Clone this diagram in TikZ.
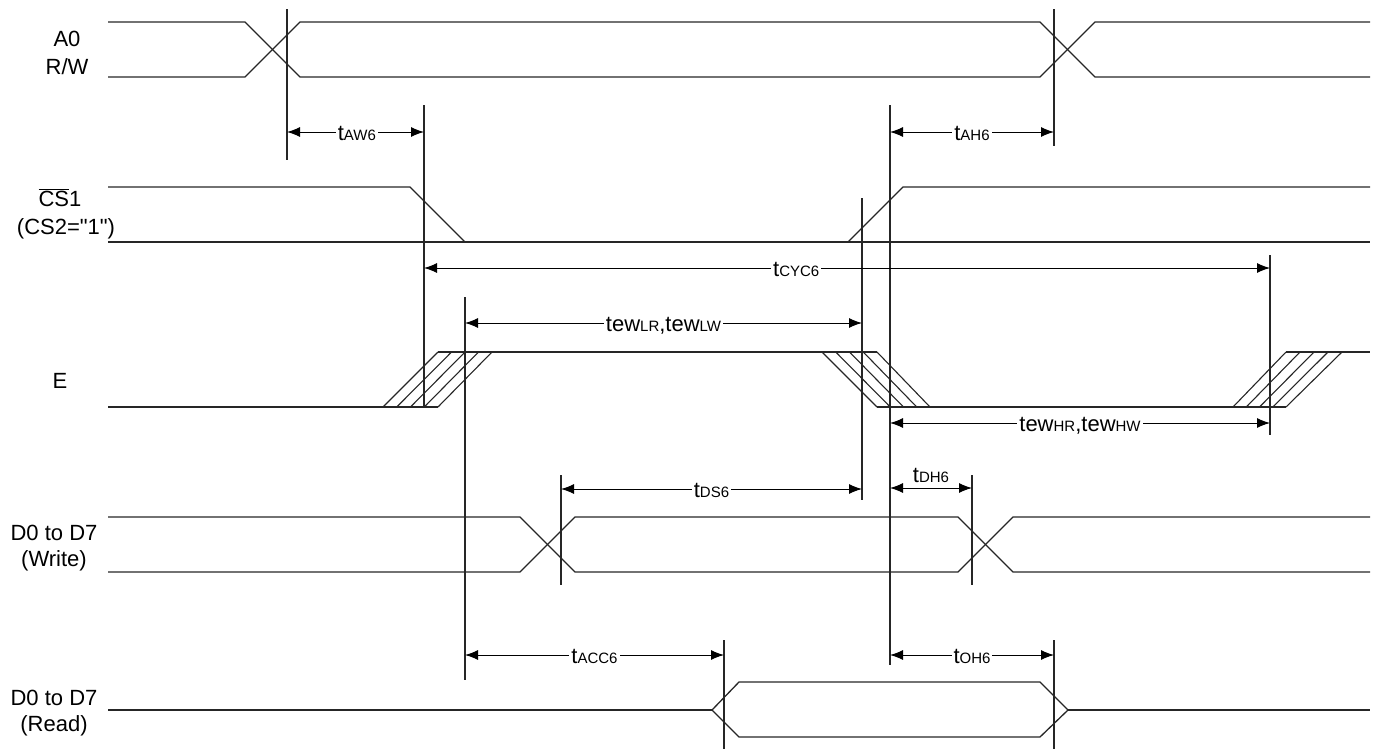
\documentclass[tikz,border=0pt]{standalone}
\usepackage{fontspec}
\setmainfont{Liberation Sans}
\newfontfamily\rawfont{Liberation Sans}
\usetikzlibrary{arrows.meta}
\newcommand{\tsub}[2]{#1{\fontsize{15}{15}\selectfont #2}}
\begin{document}
\begin{tikzpicture}[x=1pt,y=-1pt,
  every node/.style={font=\rawfont\fontsize{22}{24}\selectfont, inner sep=0pt},
  sig/.style={line width=1.3pt, draw=black!85, line join=miter},
  vline/.style={line width=1.2pt, draw=black!85},
  hatch/.style={line width=1.1pt, draw=black!85},
  dim/.style={{Latex[length=13pt,width=10pt]}-{Latex[length=13pt,width=10pt]}, line width=1pt},
  tlabel/.style={fill=white, inner xsep=2pt, inner ysep=1pt, anchor=base, yshift=-8pt},
  siglabel/.style={anchor=base}]
\useasboundingbox (0,0) rectangle (1376,753);

% signal labels
\node[siglabel] (lA0) at (67,46) {A0};
\node[siglabel] (lRW) at (67,74) {R/W};
\node[siglabel] (lCS) at (60,206) {$\overline{\mbox{\rawfont\fontsize{22}{24}\selectfont CS}}$1};
\node[siglabel] (lCS2) at (66,234) {(CS2="1")};
\node[siglabel] (lE) at (60,388) {E};
\node[siglabel] (lDW) at (54,540) {D0 to D7};
\node[siglabel] (lDWb) at (54,566) {(Write)};
\node[siglabel] (lDR) at (54,705) {D0 to D7};
\node[siglabel] (lDRb) at (54,731) {(Read)};

% A0, R/W
\draw[sig] (108,22) -- (245,22) -- (300,77) -- (1040,77) -- (1095,22) -- (1370,22);
\draw[sig] (108,77) -- (245,77) -- (300,22) -- (1040,22) -- (1095,77) -- (1370,77);

% CS1
\draw[sig] (108,187) -- (410,187) -- (465,242);
\draw[sig] (108,242) -- (1370,242);
\draw[sig] (848,242) -- (903,187) -- (1370,187);

% E
\draw[sig] (108,407) -- (438,407);
\draw[sig] (438,352) -- (877,352);
\draw[sig] (877,407) -- (1286,407);
\draw[sig] (1286,352) -- (1370,352);
\foreach \i in {0,...,4} {
  \draw[hatch] ({383+13.75*\i},407) -- ({438+13.5*\i},352);
  \draw[hatch] ({822+13.75*\i},352) -- ({877+13.25*\i},407);
  \draw[hatch] ({1233+13.25*\i},407) -- ({1286+14*\i},352);
}

% D0-D7 write
\draw[sig] (108,517) -- (520,517) -- (575,572) -- (958,572) -- (1013,517) -- (1370,517);
\draw[sig] (108,572) -- (520,572) -- (575,517) -- (958,517) -- (1013,572) -- (1370,572);

% D0-D7 read
\draw[sig] (108,710) -- (712,710);
\draw[sig] (712,710) -- (739,682) -- (1040,682) -- (1068,710) -- (1040,737) -- (739,737) -- cycle;
\draw[sig] (1068,710) -- (1370,710);

% vertical reference lines
\draw[vline] (287,9) -- (287,160);
\draw[vline] (1054,9) -- (1054,146);
\draw[vline] (424,105) -- (424,408);
\draw[vline] (890,105) -- (890,665);
\draw[vline] (862,198) -- (862,500);
\draw[vline] (1270,255) -- (1270,435);
\draw[vline] (465,297) -- (465,680);
\draw[vline] (561,475) -- (561,585);
\draw[vline] (972,475) -- (972,585);
\draw[vline] (724,640) -- (724,749);
\draw[vline] (1054,640) -- (1054,749);

% dimension end points
\coordinate (aw1) at (287,132); \coordinate (aw2) at (424,132);
\coordinate (ah1) at (890,132); \coordinate (ah2) at (1054,132);
\coordinate (cy1) at (424,268); \coordinate (cy2) at (1270,268);
\coordinate (el1) at (465,323); \coordinate (el2) at (862,323);
\coordinate (eh1) at (890,423); \coordinate (eh2) at (1270,423);
\coordinate (ds1) at (561,489); \coordinate (ds2) at (862,489);
\coordinate (dh1) at (890,488); \coordinate (dh2) at (972,488);
\coordinate (ac1) at (465,655); \coordinate (ac2) at (724,655);
\coordinate (oh1) at (890,655); \coordinate (oh2) at (1054,655);

\draw[dim] (aw1) -- (aw2) node[tlabel, pos=0.51] (tAW) {\tsub{t}{AW6}};
\draw[dim] (ah1) -- (ah2) node[tlabel, pos=0.5] (tAH) {\tsub{t}{AH6}};
\draw[dim] (cy1) -- (cy2) node[tlabel, pos=0.44] (tCYC) {\tsub{t}{CYC6}};
\draw[dim] (el1) -- (el2) node[tlabel, pos=0.5] (tEL) {\tsub{tew}{LR},\tsub{tew}{LW}};
\draw[dim] (eh1) -- (eh2) node[tlabel, pos=0.5] (tEH) {\tsub{tew}{HR},\tsub{tew}{HW}};
\draw[dim] (ds1) -- (ds2) node[tlabel, pos=0.5] (tDS) {\tsub{t}{DS6}};
\draw[dim] (dh1) -- (dh2) node[anchor=base, pos=0.5, yshift=6pt] (tDH) {\tsub{t}{DH6}};
\draw[dim] (ac1) -- (ac2) node[tlabel, pos=0.5] (tACC) {\tsub{t}{ACC6}};
\draw[dim] (oh1) -- (oh2) node[tlabel, pos=0.5] (tOH) {\tsub{t}{OH6}};
\end{tikzpicture}
\end{document}
